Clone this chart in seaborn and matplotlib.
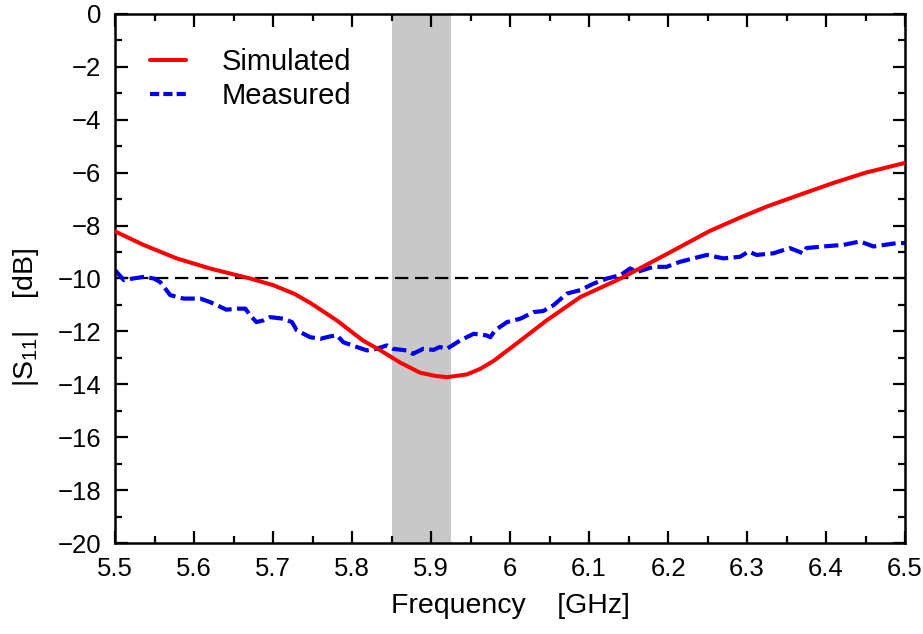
import pandas as pd
import seaborn as sns
import matplotlib.pyplot as plt
import matplotlib.ticker as ticker

# Simulated |S11|
sim_freq = [5.500, 5.536, 5.578, 5.620, 5.671, 5.700, 5.727, 5.747, 5.781, 5.814, 5.835, 5.861,
            5.886, 5.905, 5.920, 5.945, 5.962, 5.979, 6.013, 6.046, 6.089, 6.140, 6.200, 6.253,
            6.291, 6.325, 6.370, 6.409, 6.450, 6.500]
sim_s11 = [-8.22, -8.73, -9.24, -9.62, -10.00, -10.25, -10.58, -10.92, -11.59, -12.35, -12.70, -13.18,
           -13.56, -13.68, -13.73, -13.63, -13.42, -13.12, -12.35, -11.59, -10.70, -10.00, -9.05, -8.20,
           -7.70, -7.28, -6.80, -6.39, -6.00, -5.63]

# Measured |S11|
meas_freq = [5.500, 5.511, 5.523, 5.536, 5.549, 5.557, 5.570, 5.587, 5.608, 5.620, 5.629,
             5.641, 5.654, 5.665, 5.671, 5.679, 5.688, 5.696, 5.713, 5.724, 5.730, 5.747,
             5.760, 5.772, 5.781, 5.789, 5.806, 5.819, 5.831, 5.844, 5.852, 5.869, 5.877,
             5.890, 5.903, 5.911, 5.920, 5.937, 5.954, 5.970, 5.975, 5.981, 5.996, 6.013,
             6.030, 6.042, 6.055, 6.072, 6.089, 6.106, 6.123, 6.140, 6.152, 6.161, 6.181,
             6.198, 6.215, 6.232, 6.249, 6.270, 6.291, 6.302, 6.312, 6.333, 6.354, 6.371,
             6.375, 6.396, 6.422, 6.443, 6.460, 6.490, 6.500]
meas_s11 = [-9.68, -10.06, -10.00, -9.94, -10.00, -10.13, -10.63, -10.76, -10.76, -10.89, -11.01,
            -11.18, -11.14, -11.14, -11.39, -11.65, -11.58, -11.46, -11.52, -11.65, -11.96, -12.22,
            -12.28, -12.19, -12.15, -12.41, -12.59, -12.72, -12.66, -12.53, -12.66, -12.72, -12.85,
            -12.66, -12.70, -12.59, -12.66, -12.34, -12.09, -12.15, -12.22, -11.96, -11.65, -11.52,
            -11.27, -11.23, -11.01, -10.57, -10.44, -10.19, -10.00, -9.87, -9.62, -9.75, -9.56,
            -9.56, -9.37, -9.24, -9.11, -9.24, -9.18, -8.98, -9.11, -9.05, -8.85, -9.05,
            -8.85, -8.79, -8.73, -8.60, -8.79, -8.66, -8.66]

band = (5.851, 5.925)
threshold = -10

sim_df = pd.DataFrame({'freq': sim_freq, 's11': sim_s11})
meas_df = pd.DataFrame({'freq': meas_freq, 's11': meas_s11})

sns.set_style('ticks')
plt.rcParams['font.family'] = ['Liberation Sans', 'DejaVu Sans']
plt.rcParams['mathtext.fontset'] = 'custom'
plt.rcParams['mathtext.rm'] = 'Liberation Sans'
plt.rcParams['mathtext.it'] = 'Liberation Sans'
plt.rcParams['text.color'] = 'black'
plt.rcParams['axes.labelcolor'] = 'black'
plt.rcParams['xtick.color'] = 'black'
plt.rcParams['ytick.color'] = 'black'

fig = plt.figure(figsize=(9.23, 6.34), dpi=100)
ax = fig.add_axes([0.1246, 0.1435, 0.856, 0.8345])

ax.axvspan(band[0], band[1], color='#c8c8c8', lw=0, zorder=0)
ax.axhline(threshold, color='black', lw=1.6, dashes=(6, 3), zorder=1)

sns.lineplot(data=sim_df, x='freq', y='s11', ax=ax, color='#ff0000', lw=2.9,
             label='Simulated', zorder=3)
sns.lineplot(data=meas_df, x='freq', y='s11', ax=ax, color='#0000ee', lw=3.0,
             label='Measured', zorder=2)
ax.lines[-1].set_dashes((3.4, 1.3))

ax.set_xlim(5.5, 6.5)
ax.set_ylim(-20, 0)
ax.xaxis.set_major_locator(ticker.MultipleLocator(0.1))
ax.xaxis.set_minor_locator(ticker.MultipleLocator(0.05))
ax.yaxis.set_major_locator(ticker.MultipleLocator(2))
ax.yaxis.set_minor_locator(ticker.MultipleLocator(1))
fmt = ticker.FuncFormatter(lambda v, p: ('%g' % round(v, 2)).replace('-', '\u2212'))
ax.xaxis.set_major_formatter(fmt)
ax.yaxis.set_major_formatter(fmt)

ax.tick_params(which='both', direction='in', top=True, right=True, width=1.6,
               labelsize=18.5, color='black', labelcolor='black')
ax.tick_params(which='major', length=9, pad=10)
ax.tick_params(which='minor', length=5)
for s in ax.spines.values():
    s.set_linewidth(1.8)
    s.set_color('black')

ax.set_xlabel('Frequency    [GHz]', fontsize=20.5, labelpad=9)
ax.set_ylabel('|S$_{11}$|    [dB]', fontsize=20.5)
ax.yaxis.set_label_coords(-0.094, 0.426)

leg = ax.legend(loc='upper left', frameon=False, fontsize=21, handlelength=1.23,
                handletextpad=1.24, labelspacing=0.2, borderpad=0, borderaxespad=0,
                bbox_to_anchor=(0.044, 0.935))
leg.get_lines()[1].set_dashes((2.2, 1.0))

fig.savefig('out.png', dpi=100)
